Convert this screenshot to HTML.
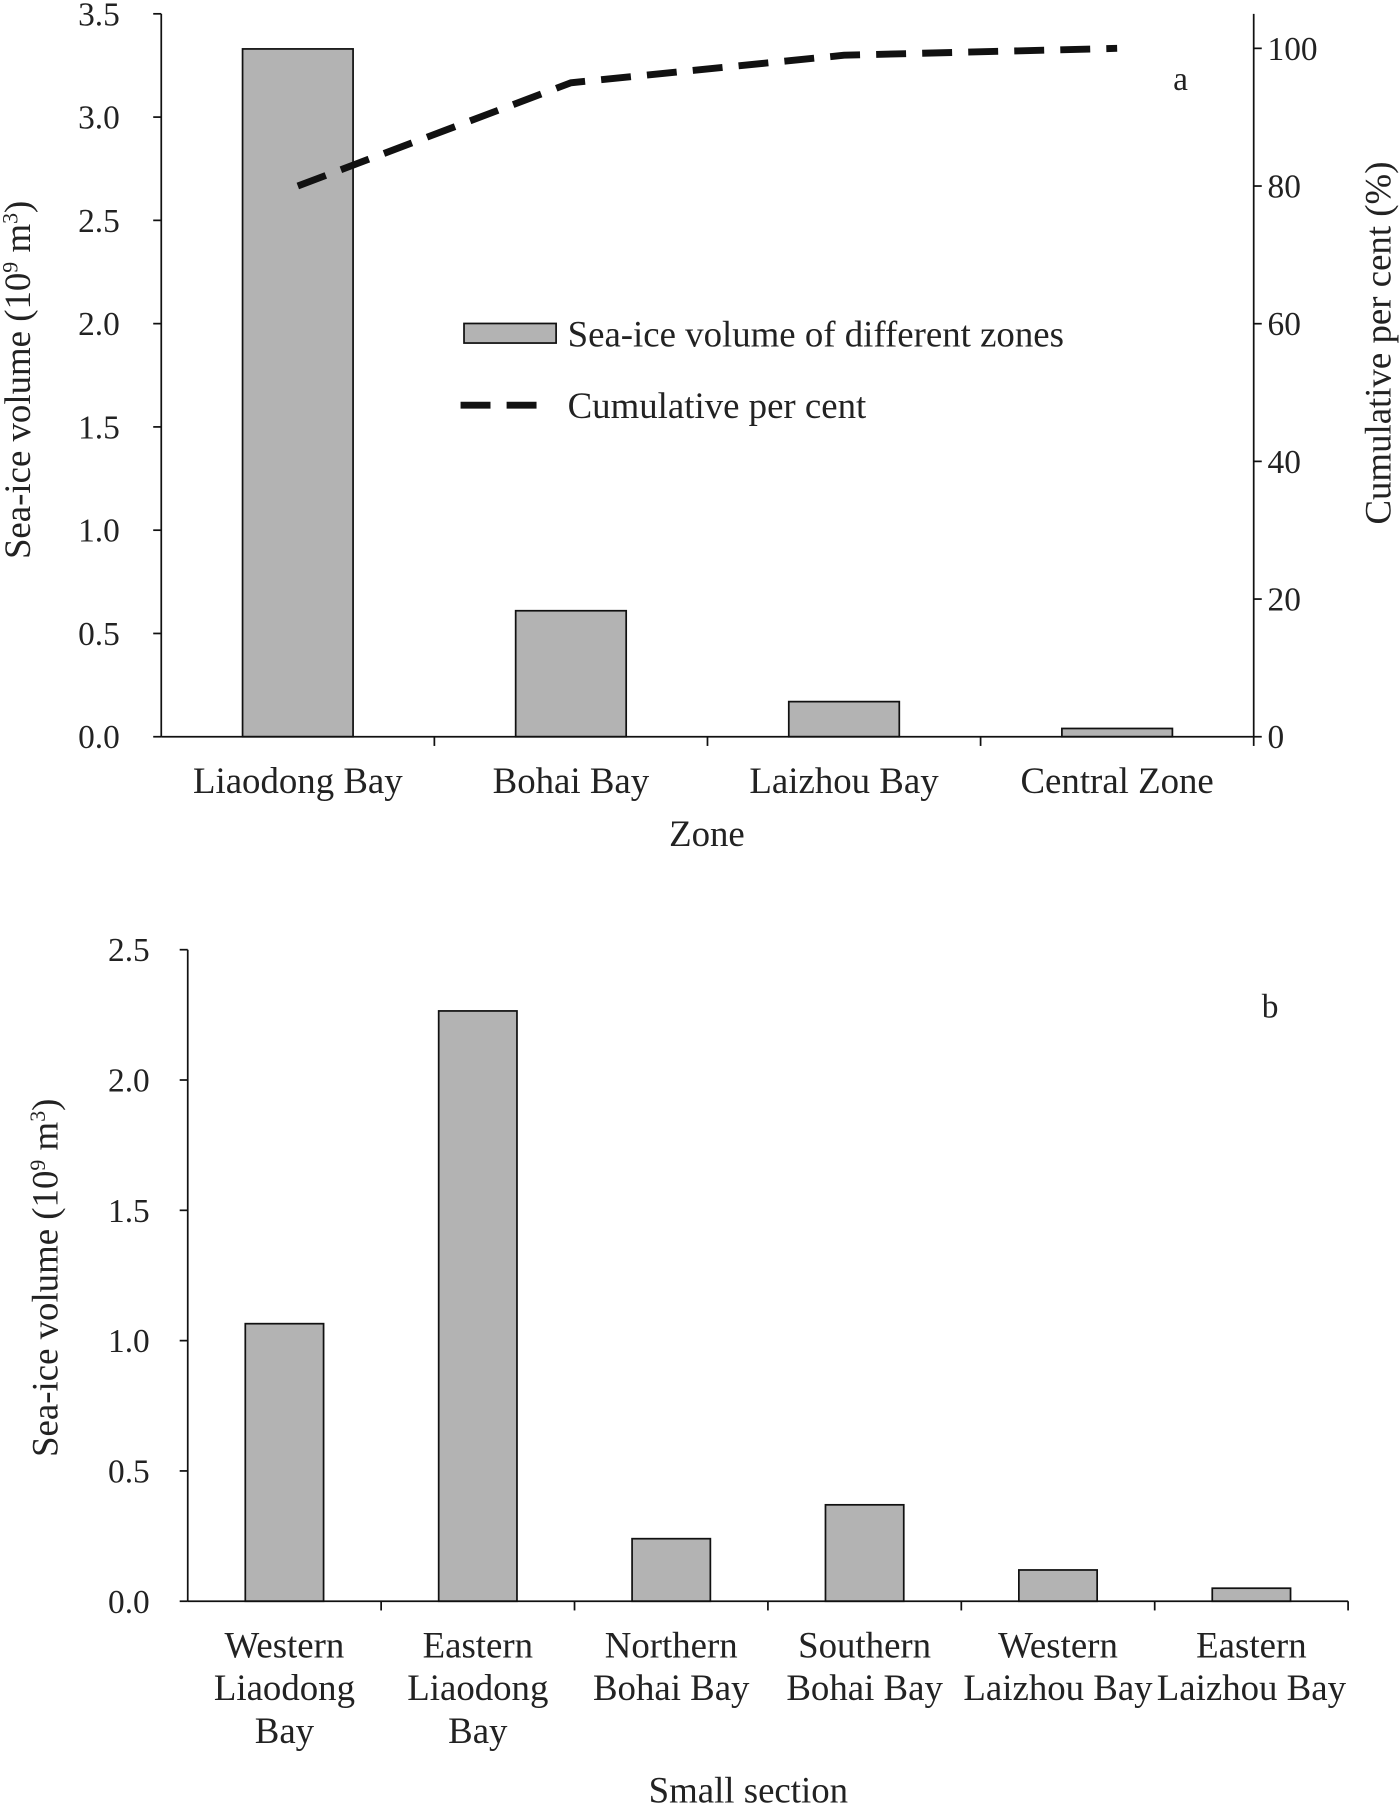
<!DOCTYPE html>
<html><head><meta charset="utf-8"><style>html,body{margin:0;padding:0;background:#fff}svg{display:block}text{font-family:"Liberation Serif",serif;fill:#222}</style></head>
<body>
<svg id="chart" width="1400" height="1805" viewBox="0 0 1216 1568" xmlns="http://www.w3.org/2000/svg"></svg>
<script>
const catsA = ["Liaodong Bay","Bohai Bay","Laizhou Bay","Central Zone"];
const volA = [3.33, 0.61, 0.17, 0.04];
const cumA = [80, 95, 99, 100];
const ticksA = ["0.0","0.5","1.0","1.5","2.0","2.5","3.0","3.5"];
const ticksARight = ["0","20","40","60","80","100"];
const catsB = [["Western","Liaodong","Bay"],["Eastern","Liaodong","Bay"],["Northern","Bohai Bay"],["Southern","Bohai Bay"],["Western","Laizhou Bay"],["Eastern","Laizhou Bay"]];
const volB = [1.065, 2.265, 0.24, 0.37, 0.12, 0.05];
const ticksB = ["0.0","0.5","1.0","1.5","2.0","2.5"];

const svg = document.getElementById('chart');
const NS = "http://www.w3.org/2000/svg";
function mk(tag, attrs, name, txt){
  const e = document.createElementNS(NS, tag);
  for (const k in attrs) e.setAttribute(k, attrs[k]);
  
  
  if (txt !== undefined) e.textContent = txt;
  svg.appendChild(e); return e;
}
const FS=32, TS=29;
// Chart A
const aL=140,aR=1089,aT=12,aB=640;
const yA = v => aB - (v/3.5)*(aB-aT);
const yAR = v => aB - (v/100)*(aB-42);
const bwA = (aR-aL)/catsA.length;
const xA = i => aL + bwA*(i+0.5);
catsA.forEach((c,i)=>{
  mk('rect',{x:xA(i)-48,y:yA(volA[i]),width:96,height:aB-yA(volA[i]),fill:'#b3b3b3',stroke:'#111','stroke-width':1.5},'bar-a-'+i);
  mk('text',{x:xA(i),y:689,'font-size':FS,'text-anchor':'middle'},'x-label-a-'+i,c);
  mk('line',{x1:aL+bwA*(i+1),y1:aB,x2:aL+bwA*(i+1),y2:aB+8,stroke:'#111','stroke-width':1.5},'x-tick-a');
});
mk('line',{x1:aL,y1:aT,x2:aL,y2:aB,stroke:'#111','stroke-width':1.5},'y-axis-left-a');
mk('line',{x1:aR,y1:aT,x2:aR,y2:aB,stroke:'#111','stroke-width':1.5},'y-axis-right-a');
mk('line',{x1:aL,y1:aB,x2:aR,y2:aB,stroke:'#111','stroke-width':1.5},'x-axis-a');
ticksA.forEach(t=>{
  const y=yA(parseFloat(t));
  mk('line',{x1:aL-7,y1:y,x2:aL,y2:y,stroke:'#111','stroke-width':1.5},'y-tick-a');
  mk('text',{x:aL-36,y:y+10,'font-size':TS,'text-anchor':'end'},'y-tick-label-a',t);
});
ticksARight.forEach(t=>{
  const y=yAR(parseFloat(t));
  mk('line',{x1:aR,y1:y,x2:aR+7,y2:y,stroke:'#111','stroke-width':1.5},'y-right-tick-a');
  mk('text',{x:aR+12,y:y+10,'font-size':TS},'y-right-tick-label-a',t);
});
mk('polyline',{points:cumA.map((v,i)=>xA(i)+','+yAR(v)).join(' '),fill:'none',stroke:'#111','stroke-width':6,'stroke-dasharray':'26,14'},'cumulative-line');
mk('rect',{x:403,y:281,width:80,height:17,fill:'#b3b3b3',stroke:'#111','stroke-width':1.5},'legend-swatch-bar');
mk('text',{x:493,y:301,'font-size':FS},'legend-label-bar','Sea-ice volume of different zones');
mk('line',{x1:400,y1:352,x2:470,y2:352,stroke:'#111','stroke-width':6,'stroke-dasharray':'26,14'},'legend-swatch-line');
mk('text',{x:493,y:363,'font-size':FS},'legend-label-line','Cumulative per cent');
mk('text',{x:1019,y:78,'font-size':TS},'panel-label-a','a');
mk('text',{x:614,y:735,'font-size':FS,'text-anchor':'middle'},'x-axis-title-a','Zone');
const t1=mk('text',{x:0,y:0,'font-size':FS,'text-anchor':'middle',transform:'translate(26,330) rotate(-90)'},'y-axis-title-a');
t1.innerHTML='Sea-ice volume (10<tspan font-size="19" dy="-11">9</tspan><tspan dy="11"> m</tspan><tspan font-size="19" dy="-11">3</tspan><tspan dy="11">)</tspan>';
mk('text',{x:0,y:0,'font-size':FS,'text-anchor':'middle',transform:'translate(1208,298) rotate(-90)'},'y-axis-title-right-a','Cumulative per cent (%)');
// Chart B
const bL=163,bR=1171,bT=825,bB=1391;
const yB = v => bB - (v/2.5)*(bB-bT);
const bwB=(bR-bL)/catsB.length;
const xB = i => bL + bwB*(i+0.5);
catsB.forEach((c,i)=>{
  mk('rect',{x:xB(i)-34,y:yB(volB[i]),width:68,height:bB-yB(volB[i]),fill:'#b3b3b3',stroke:'#111','stroke-width':1.5},'bar-b-'+i);
  c.forEach((ln,j)=>mk('text',{x:xB(i),y:1440+37*j,'font-size':FS,'text-anchor':'middle'},'x-label-b-'+i,ln));
  mk('line',{x1:bL+bwB*(i+1),y1:bB,x2:bL+bwB*(i+1),y2:bB+8,stroke:'#111','stroke-width':1.5},'x-tick-b');
});
mk('line',{x1:bL,y1:bT,x2:bL,y2:bB,stroke:'#111','stroke-width':1.5},'y-axis-b');
mk('line',{x1:bL,y1:bB,x2:bR,y2:bB,stroke:'#111','stroke-width':1.5},'x-axis-b');
ticksB.forEach(t=>{
  const y=yB(parseFloat(t));
  mk('line',{x1:bL-7,y1:y,x2:bL,y2:y,stroke:'#111','stroke-width':1.5},'y-tick-b');
  mk('text',{x:bL-33,y:y+10,'font-size':TS,'text-anchor':'end'},'y-tick-label-b',t);
});
mk('text',{x:1096,y:884,'font-size':TS},'panel-label-b','b');
mk('text',{x:650,y:1566,'font-size':FS,'text-anchor':'middle'},'x-axis-title-b','Small section');
const t2=mk('text',{x:0,y:0,'font-size':FS,'text-anchor':'middle',transform:'translate(50,1110) rotate(-90)'},'y-axis-title-b');
t2.innerHTML='Sea-ice volume (10<tspan font-size="19" dy="-11">9</tspan><tspan dy="11"> m</tspan><tspan font-size="19" dy="-11">3</tspan><tspan dy="11">)</tspan>';
</script>
</body></html>
